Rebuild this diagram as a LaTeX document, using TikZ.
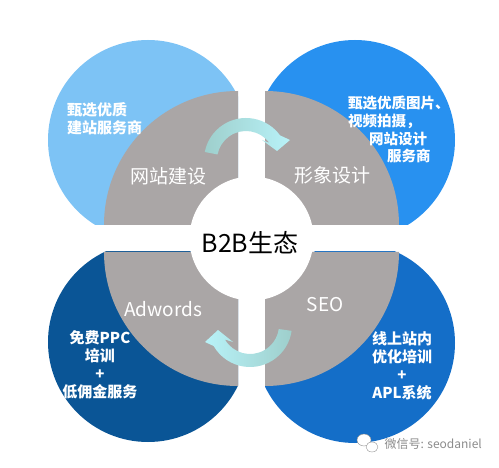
\documentclass[tikz,border=0pt]{standalone}
\usepackage{fontspec}
\setmainfont{Noto Sans CJK SC}

\definecolor{skyblue}{RGB}{125,195,245}
\definecolor{brightblue}{RGB}{40,145,240}
\definecolor{navyblue}{RGB}{10,85,150}
\definecolor{midblue}{RGB}{20,110,200}
\definecolor{ringgrey}{RGB}{170,166,166}
\definecolor{tailteal}{RGB}{158,207,204}
\definecolor{headcyan}{RGB}{184,242,248}
\definecolor{wmgrey}{RGB}{140,140,140}

\begin{document}
\begin{tikzpicture}[x=1pt,y=1pt,
  ringtext/.style={text=white,font=\fontsize{19}{22}\selectfont},
  blurb/.style={text=white,font=\bfseries\fontsize{15}{18}\selectfont,inner sep=0pt}]
\useasboundingbox (0,0) rectangle (499,467);
\fill[white] (0,0) rectangle (499,467);
% The blue circles are cut to their own quarter
\begin{scope}
\clip (0,242) rectangle (238,467);
\fill[skyblue] (148,327) circle[radius=100];
\end{scope}
\begin{scope}
\clip (265,242) rectangle (499,467);
\fill[brightblue] (355,327) circle[radius=100];
\end{scope}
\begin{scope}
\clip (0,0) rectangle (238,215);
\fill[navyblue] (148,125) circle[radius=100];
\end{scope}
\begin{scope}
\clip (265,0) rectangle (499,215);
\fill[midblue] (355,124) circle[radius=100];
\end{scope}
% Grey quarter circles, then the white hole in the middle
\fill[ringgrey] (238,242) -- (104,242) arc[start angle=180, end angle=90, radius=134] -- cycle;
\fill[ringgrey] (265,242) -- (265,376) arc[start angle=90, end angle=0, radius=134] -- cycle;
\fill[ringgrey] (238,215) -- (238,81) arc[start angle=270, end angle=180, radius=134] -- cycle;
\fill[ringgrey] (265,215) -- (399,215) arc[start angle=0, end angle=-90, radius=134] -- cycle;
\fill[white] (251.5,228.5) circle[radius=62];
% Curved arrows, drawn as filled bands so they can be shaded
\shade[shift={(246,307)}, left color=tailteal, right color=headcyan]
  (169:42) arc[start angle=169, end angle=36, radius=42] -- (44,20) -- (31,9)
  -- (16,20) -- (36:29) arc[start angle=36, end angle=169, radius=29] -- cycle;
\shade[shift={(250,142)}, left color=headcyan, right color=tailteal]
  (-8:42) arc[start angle=-8, end angle=-150, radius=42] -- (-45,-17) -- (-32,-5)
  -- (-17,-17) -- (-150:29) arc[start angle=-150, end angle=-8, radius=29] -- cycle;
% Labels
\node[ringtext] (web) at (168,291) {网站建设};
\node[ringtext] (brand) at (332,292) {形象设计};
\node[ringtext] (adwords) at (163,158) {Adwords};
\node[ringtext] (seo) at (325,162) {SEO};
\node[font=\fontsize{25}{28}\selectfont] (hub) at (250,224) {B2B生态};
\node[blurb, anchor=west, align=left] (webnote) at (67,348.5) {甄选优质\\建站服务商};
\node[blurb, font=\bfseries\fontsize{14.5}{17.7}\selectfont, anchor=north west, align=left]
  (brandnote) at (348,371) {甄选优质图片、\\视频拍摄，\\\hspace*{21pt}网站设计\\\hspace*{39pt}服务商};
\node[blurb, align=center] (adwordsnote) at (100,102.5) {免费PPC\\培训\\+\\低佣金服务};
\node[blurb, align=center] (seonote) at (402,101) {线上站内\\优化培训\\+\\APL系统};
% Watermark
\draw[wmgrey, fill=white] (364,27) ellipse[x radius=7, y radius=6];
\draw[wmgrey, fill=white] (372,20) ellipse[x radius=6, y radius=5];
\node[text=wmgrey, font=\fontsize{12}{14}\selectfont, anchor=west] (mark) at (381,23) {微信号: seodaniel};
\end{tikzpicture}
\end{document}
